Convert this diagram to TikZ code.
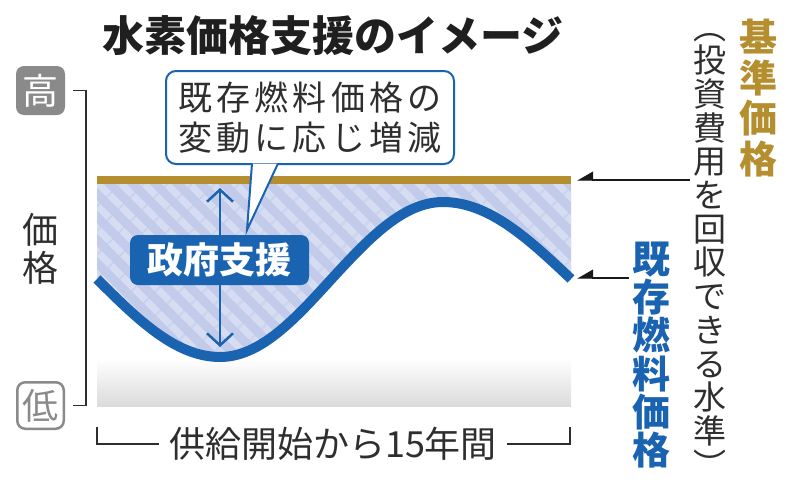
\documentclass[tikz,border=0pt]{standalone}
\usepackage{fontspec}
\setmainfont{Noto Sans CJK JP}
\usepackage[dvipsnames]{xcolor}
\usepackage{tikz}
\usetikzlibrary{positioning}
\usetikzlibrary{shapes,backgrounds,arrows.meta,patterns.meta}

\definecolor{basisgold}{HTML}{B58F2F}
\definecolor{fuelblue}{HTML}{1A63B1}
\definecolor{hatchbase}{HTML}{C2CCEA}
\definecolor{hatchlight}{HTML}{D6DDF2}
\definecolor{labelgray}{HTML}{8A8A8A}
\definecolor{inkgray}{HTML}{2E2E2E}

\tikzstyle{bracket} = [draw=inkgray, line width=1.6pt]
\tikzstyle{pointer} = [draw=black!90, line width=1.4pt, -{Triangle[harpoon, swap, length=15pt, width=17pt]}]
\tikzstyle{support} = [fill=hatchbase, postaction={pattern={Lines[angle=-45, distance=17pt, line width=7.5pt]}, pattern color=hatchlight}]
\tikzstyle{fuel} = [draw=fuelblue, line width=10pt]
\tikzstyle{gap} = [draw=fuelblue, line width=2.5pt, {Straight Barb[length=12pt, width=26pt]}-{Straight Barb[length=12pt, width=26pt]}]
\tikzstyle{supportbox} = [rounded corners=8pt, fill=fuelblue, text=white, inner sep=0, minimum width=179pt, minimum height=50pt, font=\bfseries\fontsize{36}{36}\selectfont]
\tikzstyle{callout} = [draw=fuelblue, line width=2pt, fill=white, rounded corners=10pt, minimum width=288pt, minimum height=93pt, align=center, text=inkgray, font=\fontsize{34}{40}\selectfont\addfontfeature{LetterSpace=12}]
\tikzstyle{calloutline} = [draw=fuelblue, line width=2pt, fill=white]
\tikzstyle{highbox} = [fill=labelgray, text=white, rounded corners=8pt, minimum size=49pt, inner sep=0, font=\fontsize{36}{36}\selectfont]
\tikzstyle{lowbox} = [draw=labelgray, line width=2.5pt, fill=white, text=labelgray, rounded corners=8pt, minimum size=46.5pt, inner sep=0, font=\fontsize{36}{36}\selectfont]
\tikzstyle{axislabel} = [align=center, inner sep=0, text=inkgray, font=\fontsize{36}{38}\selectfont]
\tikzstyle{vtext} = [align=center, inner sep=3pt]

\begin{document}
\begin{tikzpicture}[x=1pt, y=-1pt]
	\useasboundingbox (0, 0) rectangle (800, 485);
	
	% chart
	\shade[top color=white, bottom color=black!14] (97, 358) rectangle (571, 406);
	\fill[support] (97, 184) -- (97, 279) sin (220, 357) cos (331.5, 279) sin (443, 202) cos (571, 279) -- (571, 184) -- cycle;
	\fill[basisgold] (97, 176) rectangle (571, 184);
	\draw[fuel] (97, 279) sin (220, 357) cos (331.5, 279) sin (443, 202) cos (571, 279);
	
	\coordinate (gaptop) at (220, 188);
	\coordinate (gapbot) at (220, 347);
	\draw[gap] (gaptop) -- (gapbot);
	\node[supportbox] (support) at (219.5, 260) {政府支援};
	
	\node[callout] (change) at (310, 117.5) {既存燃料価格の\\変動に応じ増減};
	\draw[calloutline] ([xshift=-58pt, yshift=1.5pt]change.south) -- (247, 230) -- ([xshift=-32pt, yshift=1.5pt]change.south);
	
	% axes
	\node[highbox] (high) at (40.5, 90.5) {高};
	\node[lowbox] (low) at (40.5, 405.5) {低};
	\node[axislabel] (price) at (40, 248.5) {価\\格};
	\draw[bracket] ([xshift=8pt]high.east) -| ([xshift=21pt]low.east) -- ([xshift=8pt]low.east);
	
	\node[axislabel] (period) at (333, 444) {供給開始から15年間};
	\draw[bracket] ([xshift=-10pt]period.west) -| (97, 427);
	\draw[bracket] ([xshift=10pt]period.east) -| (570, 427);
	
	\node[text=black!88, font=\bfseries\fontsize{42}{42}\selectfont] (heading) at (333, 36) {水素価格支援のイメージ};
	
	% labels on the right
	\node[vtext, text=basisgold, font=\bfseries\fontsize{38}{40.7}\selectfont] (basis) at (758, 98) {基\\準\\価\\格};
	\node[vtext, text=inkgray, font=\fontsize{33}{33.7}\selectfont] (note) at (710, 255) {︵\\投\\資\\費\\用\\を\\回\\収\\で\\き\\る\\水\\準\\︶};
	\node[vtext, text=fuelblue, font=\bfseries\fontsize{38}{38.2}\selectfont] (fuelname) at (651, 355) {既\\存\\燃\\料\\価\\格};
	\coordinate (basisend) at (577, 180);
	\coordinate (fuelend) at (577, 278);
	\draw[pointer] (note.west |- basisend) -- (basisend);
	\draw[pointer] (fuelname.west |- fuelend) -- (fuelend);
\end{tikzpicture}
\end{document}
